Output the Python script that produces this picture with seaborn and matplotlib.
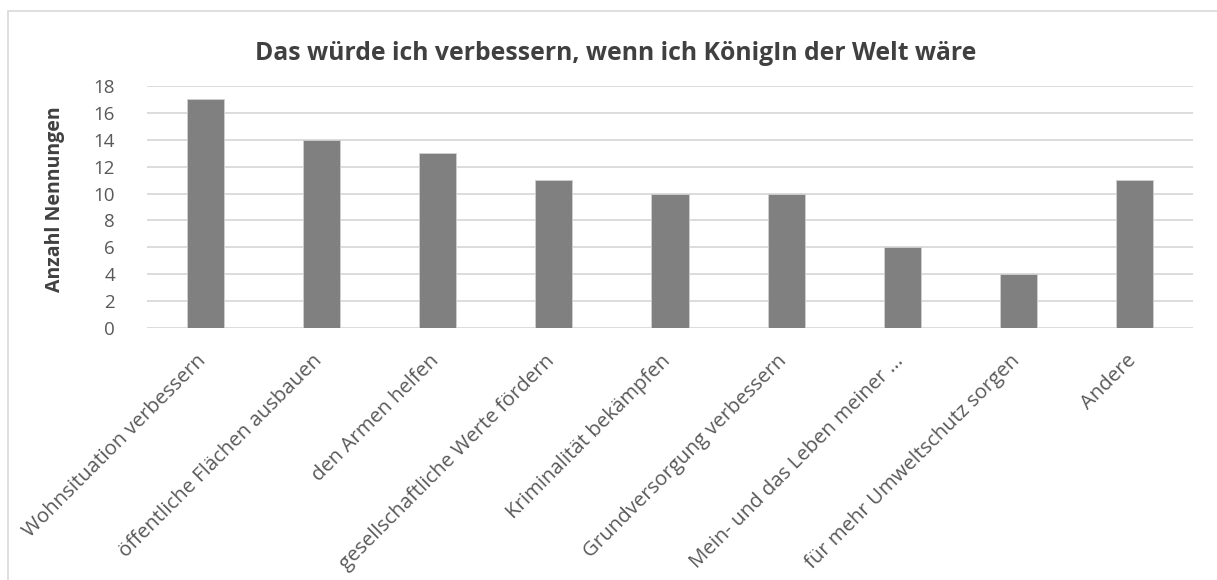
import matplotlib.pyplot as plt
import matplotlib.patches as mpatches
import matplotlib.transforms as mtransforms
import pandas as pd
import seaborn as sns

categories = ['Wohnsituation verbessern', 'öffentliche Flächen ausbauen', 'den Armen helfen',
              'gesellschaftliche Werte fördern', 'Kriminalität bekämpfen', 'Grundversorgung verbessern',
              'Mein- und das Leben meiner ...', 'für mehr Umweltschutz sorgen', 'Andere']
counts = [17, 14, 13, 11, 10, 10, 6, 4, 11]
y_ticks = [0, 2, 4, 6, 8, 10, 12, 14, 16, 18]

title = 'Das würde ich verbessern, wenn ich KönigIn der Welt wäre'
ylabel = 'Anzahl Nennungen'

sns.set_style('white')
plt.rcParams['font.family'] = ['Open Sans', 'DejaVu Sans']

W, H = 1217, 580
fig = plt.figure(figsize=(W / 100, H / 100), dpi=100)
ax = fig.add_axes([147 / W, 1 - 328 / H, (1193 - 147) / W, (328 - 86) / H])

df = pd.DataFrame({'cat': categories, 'n': counts})
sns.barplot(data=df, x='cat', y='n', ax=ax, color='#808080', saturation=1, width=0.32,
            edgecolor='#d0d0d0', linewidth=0.6, zorder=3)

ax.set_ylim(0, 18)
ax.set_xlim(-0.5, len(categories) - 0.5)
ax.set_yticks(y_ticks)
ax.yaxis.grid(True, color='#d9d9d9', linewidth=1.3, zorder=0)
ax.set_axisbelow(True)
for s in ax.spines.values():
    s.set_visible(False)
ax.tick_params(axis='y', length=0, labelsize=13.5, labelcolor='#595959', pad=23)
ax.tick_params(axis='x', length=0, labelsize=14.7, labelcolor='#595959', pad=0)
ax.set_xticks(range(len(categories)))
ax.set_xticklabels(categories, rotation=45, ha='right', va='center', rotation_mode='anchor')
shift = mtransforms.ScaledTranslation(-2 / 100, -30 / 100, fig.dpi_scale_trans)
for lbl in ax.get_xticklabels():
    lbl.set_transform(lbl.get_transform() + shift)
ax.set_xlabel('')
ax.set_ylabel(ylabel, fontsize=14, fontweight='bold', color='#404040')
ax.yaxis.set_label_coords(-0.078, 0.533)

fig.text(616 / W, 1 - 53 / H, title, ha='center', va='center', fontsize=17.8,
         fontweight='bold', color='#404040')

# chart frame (left and top edges visible)
frame = mpatches.Rectangle((8 / W, -0.1), 1.2, 1.1 - 11 / H, transform=fig.transFigure,
                           fill=False, edgecolor='#d9d9d9', linewidth=1.2)
fig.patches.append(frame)

fig.savefig('out.png', dpi=100, facecolor='white')
